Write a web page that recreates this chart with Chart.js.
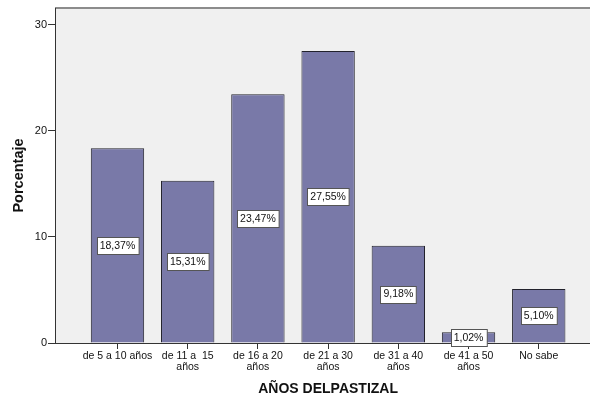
<!DOCTYPE html>
<html>
<head>
<meta charset="utf-8">
<script src="https://cdn.jsdelivr.net/npm/chart.js@4.4.1/dist/chart.umd.min.js"></script>
<style>
  html, body { margin: 0; padding: 0; background: #ffffff; }
  #wrap { width: 590px; height: 398px; }
</style>
</head>
<body>
<div id="wrap"><canvas id="c" width="590" height="398"></canvas></div>
<script>
// Age ranges of the pasture and share of respondents (%)
const categories = [
  'de 5 a 10 años',
  ['de 11 a  15', 'años'],
  ['de 16 a 20', 'años'],
  ['de 21 a 30', 'años'],
  ['de 31 a 40', 'años'],
  ['de 41 a 50', 'años'],
  'No sabe'
];
const percentages = [18.37, 15.31, 23.47, 27.55, 9.18, 1.02, 5.10];
const yTicks = [0, 10, 20, 30];

const FONT = 'Liberation Sans, Arial, sans-serif';

// Grey plotting panel with its top frame line
const panelPlugin = {
  id: 'panel',
  beforeDraw(chart) {
    const { ctx, chartArea: a } = chart;
    ctx.save();
    ctx.fillStyle = '#f0f0f0';
    ctx.fillRect(a.left, a.top, a.right - a.left, a.bottom - a.top);
    ctx.strokeStyle = '#8c8c8c';
    ctx.lineWidth = 2;
    ctx.beginPath();
    ctx.moveTo(a.left, a.top);
    ctx.lineTo(a.right, a.top);
    ctx.stroke();
    ctx.restore();
  }
};

// Boxed percentage labels at the middle of each bar
const boxLabelPlugin = {
  id: 'boxLabels',
  afterDatasetsDraw(chart) {
    const { ctx } = chart;
    const meta = chart.getDatasetMeta(0);
    ctx.save();
    ctx.font = '10.5px ' + FONT;
    ctx.textAlign = 'center';
    ctx.textBaseline = 'middle';
    meta.data.forEach((bar, i) => {
      const text = percentages[i].toFixed(2).replace('.', ',') + '%';
      const cy = (bar.y + bar.base) / 2;
      const w = ctx.measureText(text).width + 6;
      const h = 17;
      const x0 = Math.round(bar.x - w / 2) + 0.5;
      const y0 = Math.round(cy - h / 2) + 0.5;
      ctx.fillStyle = '#ffffff';
      ctx.fillRect(x0, y0, w, h);
      ctx.strokeStyle = '#555555';
      ctx.lineWidth = 1;
      ctx.strokeRect(x0, y0, w, h);
      ctx.fillStyle = '#111111';
      ctx.fillText(text, bar.x, cy + 0.5);
    });
    ctx.restore();
  }
};

// Horizontal axis title, centred under the middle category
const xTitlePlugin = {
  id: 'xTitle',
  afterDraw(chart) {
    const { ctx } = chart;
    const xs = chart.scales.x;
    ctx.save();
    ctx.font = 'bold 14px ' + FONT;
    ctx.fillStyle = '#111111';
    ctx.textAlign = 'center';
    ctx.textBaseline = 'middle';
    ctx.fillText('AÑOS DELPASTIZAL', xs.getPixelForValue((categories.length - 1) / 2), 389);
    ctx.restore();
  }
};

new Chart(document.getElementById('c'), {
  type: 'bar',
  data: {
    datasets: [{
      data: percentages.map((v, i) => ({ x: i, y: v })),
      backgroundColor: 'rgb(121,121,168)',
      borderColor: '#22222c',
      borderWidth: 1,
      barPercentage: 0.95,
      categoryPercentage: 0.8
    }]
  },
  options: {
    responsive: false,
    animation: false,
    layout: { padding: { top: 8, left: 0, right: 0, bottom: 0 } },
    plugins: {
      legend: { display: false },
      tooltip: { enabled: false }
    },
    scales: {
      x: {
        type: 'linear',
        offset: false,
        min: -0.89,
        max: 6.73,
        afterBuildTicks(scale) {
          scale.ticks = categories.map((_, i) => ({ value: i }));
        },
        afterFit(scale) { scale.height = 55; },
        grid: {
          offset: false,
          drawOnChartArea: false,
          drawTicks: true,
          tickLength: 6,
          color: '#333333'
        },
        border: { display: true, color: '#333333', width: 1 },
        ticks: {
          autoSkip: false,
          maxRotation: 0,
          padding: 2,
          color: '#111111',
          font: { family: FONT, size: 10.5, lineHeight: 1 },
          callback: (v) => categories[v]
        }
      },
      y: {
        min: 0,
        max: 31.6,
        afterBuildTicks(scale) {
          scale.ticks = yTicks.map(v => ({ value: v }));
        },
        afterFit(scale) { scale.width = 55; },
        grid: {
          drawOnChartArea: false,
          drawTicks: true,
          tickLength: 7,
          color: '#333333'
        },
        border: { display: true, color: '#333333', width: 1 },
        ticks: {
          padding: 1,
          color: '#111111',
          font: { family: FONT, size: 11 }
        },
        title: {
          display: true,
          text: 'Porcentaje',
          color: '#111111',
          font: { family: FONT, size: 14.5, weight: 'bold' },
          padding: { top: 10, bottom: 0 }
        }
      }
    }
  },
  plugins: [panelPlugin, boxLabelPlugin, xTitlePlugin]
});
</script>
</body>
</html>
